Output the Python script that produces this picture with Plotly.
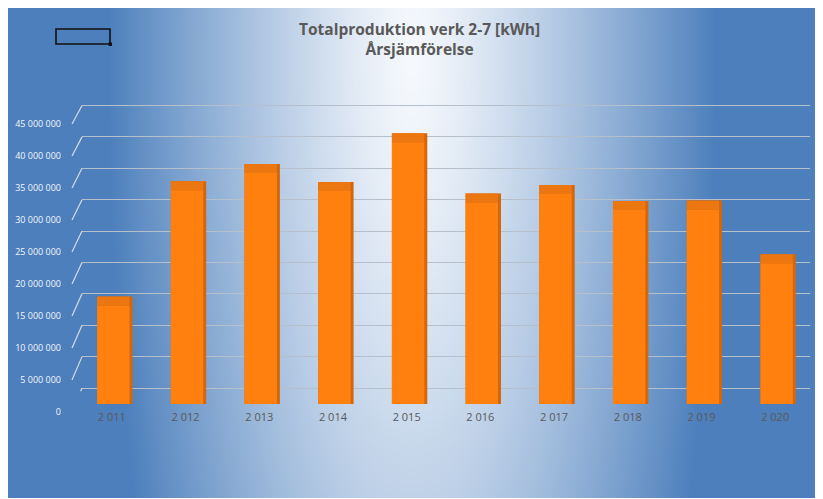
import base64
import struct
import zlib

import numpy as np
import plotly.graph_objects as go

# ---------------- data ----------------
years = ["2 011", "2 012", "2 013", "2 014", "2 015", "2 016", "2 017", "2 018", "2 019", "2 020"]
production_kwh = [15.4e6, 33.4e6, 36.1e6, 33.3e6, 40.9e6, 31.5e6, 32.8e6, 30.3e6, 30.4e6, 22.0e6]
y_tick_vals = [0, 5e6, 10e6, 15e6, 20e6, 25e6, 30e6, 35e6, 40e6, 45e6]
y_tick_text = ["0", "5 000 000", "10 000 000", "15 000 000", "20 000 000", "25 000 000",
               "30 000 000", "35 000 000", "40 000 000", "45 000 000"]
title_text = "Totalproduktion verk 2-7 [kWh]<br>Årsjämförelse"

# ---------------- geometry (pixels of the 823x499 page) ----------------
PAGE_W, PAGE_H = 823, 499
OFF = 8                       # default page margin around the figure
W, H = PAGE_W - OFF, PAGE_H - OFF


def fx(p):
    return (p - OFF) / W


def fy(p):
    return 1 - (p - OFF) / H


# back wall (gridlines)
GRID_X0, GRID_X1 = 82, 810
GRID_Y0_PX, GRID_YTOP_PX = 388, 105.5
GRID_TOP_VAL = 45e6
GRID_PAD = 0.5e6
g_k = (GRID_Y0_PX - GRID_YTOP_PX) / GRID_TOP_VAL
grid_dom = [fy(GRID_Y0_PX + GRID_PAD * g_k), fy(GRID_YTOP_PX - GRID_PAD * g_k)]

# bars (front)
BAR_X0, BAR_X1 = 75, 812
BAR_Y0_PX = 404
BAR_K = 32 / 5e6
BAR_TOP_VAL = 47e6
bar_dom = [fy(BAR_Y0_PX), fy(BAR_Y0_PX - BAR_TOP_VAL * BAR_K)]
LABEL_SHIFT = 8
CAP = 1.4e6

# ---------------- background gradient image ----------------
IMG_X0, IMG_X1, IMG_Y0, IMG_Y1 = OFF, 820, OFF, 498
xs = np.arange(IMG_X0, IMG_X1) + 0.5
ys = np.arange(IMG_Y0, IMG_Y1) + 0.5
X, Y = np.meshgrid(xs, ys)
dx = (X - 412) / 305
dy = (Y - 60) / 1100
t = np.clip(np.sqrt(dx ** 2 + dy ** 2), 0, 1)
s = t ** 1.25
white = np.array([246, 249, 253], dtype=float)
blue = np.array([76, 127, 188], dtype=float)
img = (white[None, None, :] * (1 - s[..., None]) + blue[None, None, :] * s[..., None]).astype(np.uint8)


def make_png(arr):
    h, w, _ = arr.shape
    raw = b"".join(b"\x00" + arr[i].tobytes() for i in range(h))

    def chunk(tag, data):
        c = struct.pack(">I", len(data)) + tag + data
        return c + struct.pack(">I", zlib.crc32(tag + data) & 0xFFFFFFFF)

    return (b"\x89PNG\r\n\x1a\n"
            + chunk(b"IHDR", struct.pack(">IIBBBBB", w, h, 8, 2, 0, 0, 0))
            + chunk(b"IDAT", zlib.compress(raw, 9))
            + chunk(b"IEND", b""))


bg_uri = "data:image/png;base64," + base64.b64encode(make_png(img)).decode()

# ---------------- figure ----------------
fig = go.Figure()

# invisible trace so the back-wall (gridline) subplot exists
fig.add_trace(go.Scatter(x=[0.5], y=[0], mode="markers", marker=dict(opacity=0),
                         hoverinfo="skip", showlegend=False, xaxis="x", yaxis="y"))

# side faces (darker, slightly wider, behind)
fig.add_trace(go.Bar(x=years, y=[v + CAP for v in production_kwh], width=0.48, offset=-0.2,
                     marker=dict(color="#D2670C", line=dict(width=0)),
                     hoverinfo="skip", showlegend=False, xaxis="x2", yaxis="y2"))
# front faces
fig.add_trace(go.Bar(x=years, y=production_kwh, width=0.44, offset=-0.2,
                     marker=dict(color="#FF800F", line=dict(width=0)),
                     name="kWh", showlegend=False, xaxis="x2", yaxis="y2"))
# top faces
fig.add_trace(go.Bar(x=years, y=[CAP] * len(production_kwh), base=production_kwh,
                     width=0.44, offset=-0.2,
                     marker=dict(color="#EC760F", line=dict(width=0)),
                     hoverinfo="skip", showlegend=False, xaxis="x2", yaxis="y2"))

grid_color = "#B6BFCC"

# diagonal connectors between front labels and back gridlines
shapes = []
for v in y_tick_vals:
    front_px = BAR_Y0_PX - v * BAR_K + LABEL_SHIFT
    front_val = (GRID_Y0_PX - front_px) / g_k
    shapes.append(dict(type="line", xref="paper", yref="y",
                       x0=fx(GRID_X0 - 10), y0=front_val, x1=fx(GRID_X0), y1=v,
                       line=dict(color="#D5DCE6", width=1.2)))

# small rectangle (empty legend box) top-left
shapes.append(dict(type="rect", xref="paper", yref="paper",
                   x0=fx(56), x1=fx(110), y0=fy(44), y1=fy(29),
                   line=dict(color="#111111", width=1.6), fillcolor="rgba(0,0,0,0)"))
shapes.append(dict(type="rect", xref="paper", yref="paper",
                   x0=fx(108.5), x1=fx(112), y0=fy(46), y1=fy(42.5),
                   line=dict(width=0), fillcolor="#111111"))

FONT = "Open Sans, Lato, sans-serif"

fig.update_layout(
    width=W, height=H,
    autosize=False,
    margin=dict(l=0, r=0, t=0, b=0, autoexpand=False),
    paper_bgcolor="white",
    plot_bgcolor="rgba(0,0,0,0)",
    barmode="overlay",
    font=dict(family=FONT, color="#595959"),
    images=[dict(source=bg_uri, xref="paper", yref="paper",
                 x=fx(IMG_X0), y=fy(IMG_Y0), sizex=(IMG_X1 - IMG_X0) / W, sizey=(IMG_Y1 - IMG_Y0) / H,
                 xanchor="left", yanchor="top", sizing="stretch", layer="below")],
    xaxis=dict(domain=[fx(GRID_X0), fx(GRID_X1)], range=[0, 1], visible=False, anchor="y",
               automargin=False),
    yaxis=dict(domain=grid_dom, range=[-GRID_PAD, GRID_TOP_VAL + GRID_PAD], anchor="x",
               tickvals=y_tick_vals, showticklabels=False, showgrid=True, automargin=False,
               gridcolor=grid_color, gridwidth=1.3, zeroline=False, showline=False, ticks=""),
    xaxis2=dict(domain=[fx(BAR_X0), fx(BAR_X1)], anchor="y2", type="category",
                showgrid=False, showline=False, zeroline=False, ticks="", automargin=False,
                ticklabelstandoff=5,
                tickfont=dict(family=FONT, size=11, color="#595959")),
    yaxis2=dict(domain=bar_dom, range=[0, BAR_TOP_VAL], anchor="x2",
                tickvals=y_tick_vals, ticktext=y_tick_text, showgrid=False, automargin=False,
                zeroline=False, showline=False, ticks="",
                ticklabelshift=LABEL_SHIFT, ticklabelstandoff=13,
                tickfont=dict(family=FONT, size=9, color="#F4F6FA")),
    shapes=shapes,
    annotations=[
        dict(text=title_text, xref="paper", yref="paper", x=fx(419), y=fy(39),
             xanchor="center", yanchor="middle", showarrow=False,
             font=dict(family=FONT, size=15.5, color="#595959", weight="bold")),
    ],
)

fig.write_html("out.html")
